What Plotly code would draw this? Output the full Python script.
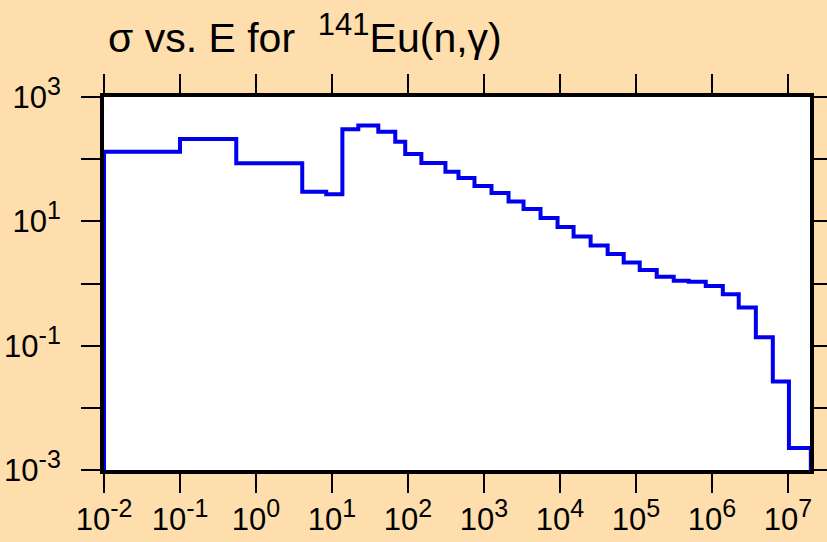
import plotly.graph_objects as go

# Group boundaries (eV) and cross sections (b)
energy_edges = [0.01, 0.1, 0.55, 4.06, 8.4, 13.7, 22.2, 40.7, 68, 92, 150, 311, 462, 750,
                1256, 2105, 3315, 5550, 9290, 15100, 25300, 42400, 68900, 112000, 187600,
                314000, 495000, 828000, 1.39e6, 2.25e6, 3.78e6, 6.32e6, 1.03e7, 2.0e7]
cross_section = [132, 211, 86, 30, 27.3, 303, 348, 277, 191, 121, 87, 63, 49.9, 37.1, 28.6,
                 20.8, 15.8, 11.3, 8.13, 5.72, 4.07, 2.99, 2.17, 1.65, 1.29, 1.11, 1.07,
                 0.915, 0.673, 0.410, 0.137, 0.0264, 0.00225]
floor_value = 1e-5  # histogram closes down to below the axis floor at both ends

x_exponents = ["-2", "-1", "0", "1", "2", "3", "4", "5", "6", "7"]
x_tick_vals = [1e-2, 1e-1, 1e0, 1e1, 1e2, 1e3, 1e4, 1e5, 1e6, 1e7]
y_exponents = ["-3", "", "-1", "", "1", "", "3"]
y_tick_vals = [1e-3, 1e-2, 1e-1, 1e0, 1e1, 1e2, 1e3]


def power_label(exp):
    if exp == "":
        return ""
    return "10<sup><span style='font-size:25px'>" + exp + "</span></sup>"


x_tick_text = [power_label(e) for e in x_exponents]
y_tick_text = [power_label(e) for e in y_exponents]

# histogram outline (hv steps)
xs = [energy_edges[0]] + energy_edges[:-1] + [energy_edges[-1], energy_edges[-1]]
ys = [floor_value] + cross_section + [cross_section[-1], floor_value]

fig = go.Figure()
fig.add_trace(go.Scatter(x=xs, y=ys, mode="lines", line_shape="hv",
                         line=dict(color="#0000EE", width=4), showlegend=False,
                         hoverinfo="skip"))

BG = "#FFDEAD"
font_family = "Liberation Sans, Arial, sans-serif"
title_text = "σ vs. E for&nbsp; <sup><span style='font-size:31px'>141</span></sup>Eu(n,γ)"
fig.update_layout(
    width=827, height=542, autosize=False,
    paper_bgcolor=BG, plot_bgcolor="white",
    margin=dict(l=104, r=17, t=97, b=72, autoexpand=False),
    font=dict(family=font_family, size=31, color="black"),
    title=dict(text=title_text, font=dict(size=41, family=font_family),
               x=108 / 827, xanchor="left", xref="container",
               y=1 - 52 / 542, yanchor="bottom", yref="container", pad=dict(b=0)),
    xaxis=dict(type="log", range=[-2, 7.29], tickvals=x_tick_vals, ticktext=x_tick_text,
               ticks="outside", ticklen=19, tickwidth=2, tickcolor="black",
               showline=True, linewidth=4, linecolor="black", mirror="allticks",
               showgrid=False, zeroline=False, tickfont=dict(size=31),
               ticklabelstandoff=0, automargin=False),
    yaxis=dict(type="log", range=[-3, 3], tickvals=y_tick_vals, ticktext=y_tick_text,
               ticks="outside", ticklen=19, tickwidth=2, tickcolor="black",
               showline=True, linewidth=4, linecolor="black", mirror="allticks",
               showgrid=False, zeroline=False, tickfont=dict(size=31),
               ticklabelstandoff=14, automargin=False),
)

post = ("document.body.style.margin='0';document.body.style.padding='0';"
        "document.body.style.overflow='hidden';")
fig.write_html("out.html", post_script=post, config={"displayModeBar": False})
